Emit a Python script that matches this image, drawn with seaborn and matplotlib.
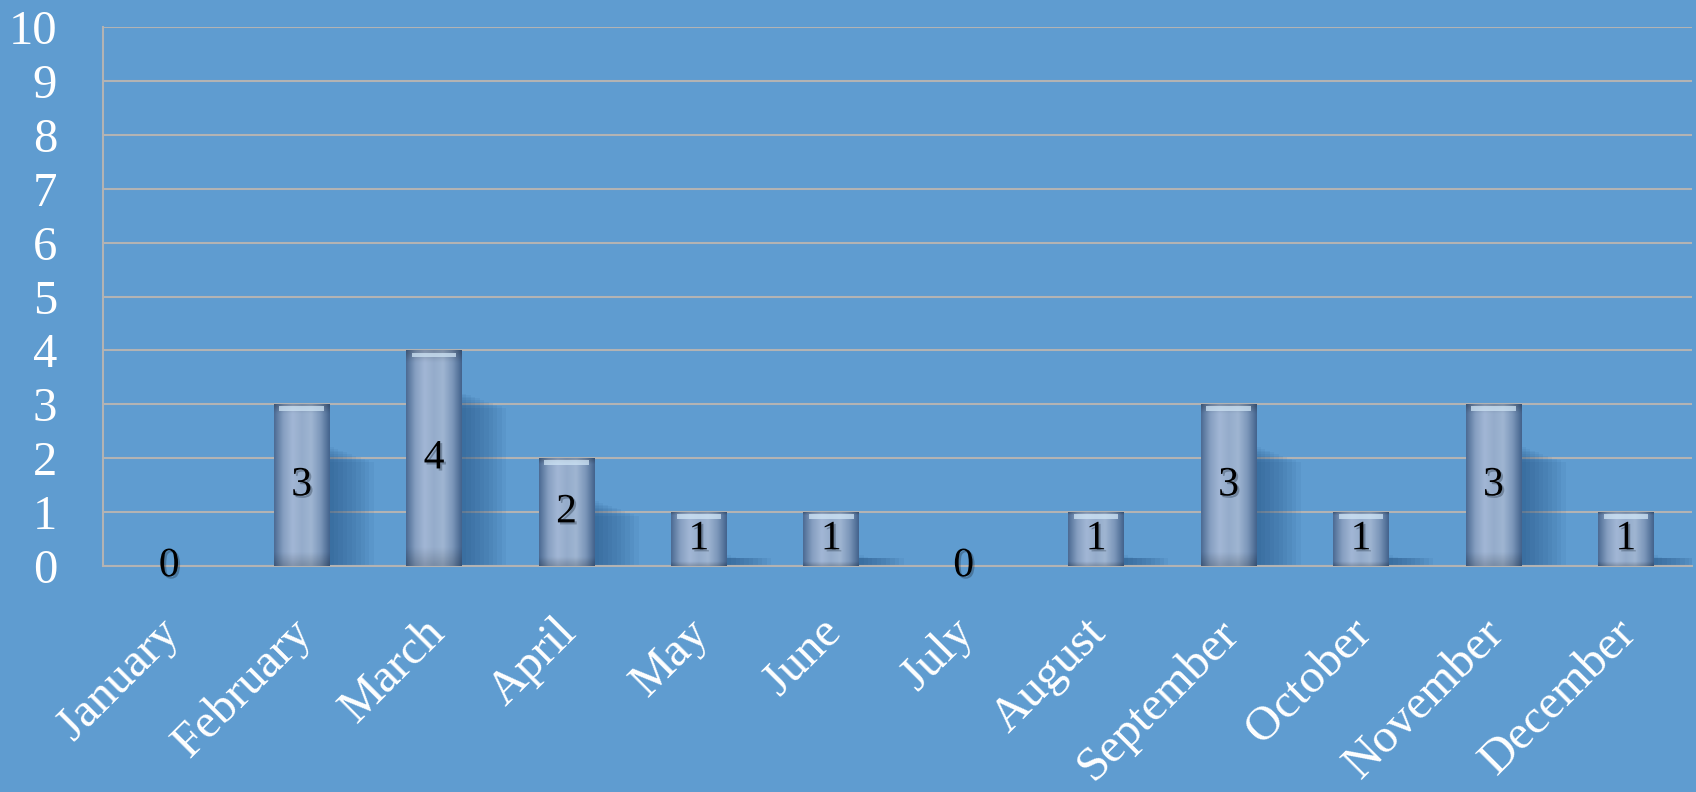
import numpy as np
import pandas as pd
import matplotlib
matplotlib.use("Agg")
import matplotlib.pyplot as plt
import matplotlib.patheffects as pe
import matplotlib.transforms as mtransforms
from matplotlib.patches import Rectangle
from matplotlib.colors import LinearSegmentedColormap
import seaborn as sns

# data
months = ["January", "February", "March", "April", "May", "June",
          "July", "August", "September", "October", "November", "December"]
counts = [0, 3, 4, 2, 1, 1, 0, 1, 3, 1, 3, 1]
y_ticks = list(range(0, 11))

bg = "#5F9CD0"
grid_c = "#B3B3B3"

sns.set_theme(style="white")
plt.rcParams["font.family"] = ["Liberation Serif", "DejaVu Serif"]

fig = plt.figure(figsize=(16.96, 7.92), dpi=100, facecolor=bg)
ax = fig.add_axes([103 / 1696, 1 - 566 / 792, (1692 - 103) / 1696, (566 - 27) / 792])
ax.set_facecolor(bg)

df = pd.DataFrame({"month": months, "count": counts})
sns.barplot(data=df, x="month", y="count", color="#93AACB", saturation=1,
            width=0.42, linewidth=0, ax=ax, zorder=3)

# glassy look for each bar: shadow, horizontal gradient, top highlight
bar_cmap = LinearSegmentedColormap.from_list(
    "bar", ["#4B6A92", "#869FC1", "#A2B7D5", "#95ACCB", "#9FB5D2", "#7C97BA", "#42628B"])
grad = np.linspace(0, 1, 256)[None, :]
vshade = np.zeros((64, 1, 4))
vshade[:, 0, 3] = np.concatenate([np.linspace(0.18, 0, 6), np.zeros(54), np.linspace(0, 0.2, 4)])[::-1]

for p in ax.patches:
    x0, w, h = p.get_x(), p.get_width(), p.get_height()
    if h <= 0:
        continue
    for k in range(10):
        sw = w * 0.8 * (k + 1) / 10
        sh = max(h - 0.8 - 0.03 * k, 0.15)
        ax.add_patch(Rectangle((x0 + w, 0), sw, sh, facecolor="#1F4C7C",
                               alpha=0.07, lw=0, zorder=2))
    ax.imshow(grad, extent=[x0, x0 + w, 0, h], aspect="auto", cmap=bar_cmap,
              interpolation="bicubic", zorder=3.5)
    ax.imshow(vshade, extent=[x0, x0 + w, 0, h], aspect="auto",
              interpolation="bicubic", zorder=3.6)
    ax.add_patch(Rectangle((x0 + 0.1 * w, h - 0.12), 0.8 * w, 0.08,
                           facecolor="#CFE5F6", alpha=0.75, lw=0, zorder=3.7))

labels = ax.bar_label(ax.containers[0], label_type="center", fontsize=30,
                      color="black", zorder=6)
for t in labels:
    t.set_path_effects([pe.withSimplePatchShadow(offset=(1.5, -1.5),
                                                 shadow_rgbFace="#203040", alpha=0.35)])

ax.set_xlim(-0.5, len(months) - 0.5)
ax.set_ylim(0, 10)
ax.set_yticks(y_ticks)
ax.set_xlabel("")
ax.set_ylabel("")

ax.set_axisbelow(True)
ax.yaxis.grid(True, color=grid_c, lw=1.5)
ax.xaxis.grid(False)
for s in ["top", "right"]:
    ax.spines[s].set_visible(False)
for s in ["left", "bottom"]:
    ax.spines[s].set_color(grid_c)
    ax.spines[s].set_linewidth(1.5)

ax.set_xticks(np.arange(-0.5, len(months), 1), minor=True)
ax.tick_params(axis="x", which="major", length=0, pad=32, labelsize=35, labelcolor="white")
ax.tick_params(axis="x", which="minor", length=11, width=1.1, color=grid_c)
ax.tick_params(axis="y", length=11, width=1.1, color=grid_c, pad=22,
               labelsize=35, labelcolor="white")

shift = mtransforms.ScaledTranslation(-12 / 100, 0, fig.dpi_scale_trans)
for lbl in ax.get_xticklabels():
    lbl.set_rotation(45)
    lbl.set_ha("right")
    lbl.set_rotation_mode("anchor")
    lbl.set_transform(lbl.get_transform() + shift)

fig.savefig("out.png", dpi=100, facecolor=bg)
